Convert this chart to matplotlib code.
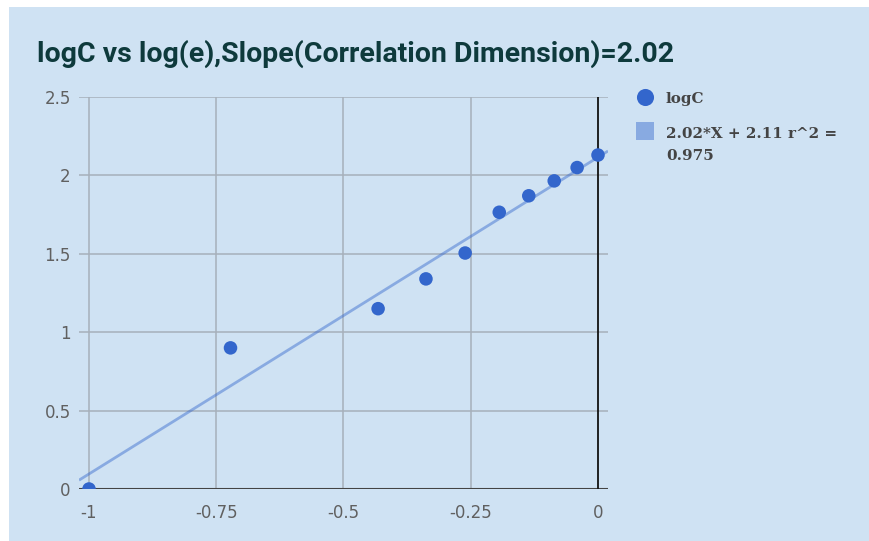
import numpy as np
import matplotlib
matplotlib.use("Agg")
import matplotlib.pyplot as plt
from matplotlib.lines import Line2D

# data
log_e = [-1.0, -0.722, -0.432, -0.338, -0.261, -0.194, -0.136, -0.086, -0.041, 0.0]
log_c = [0.0, 0.90, 1.15, 1.34, 1.505, 1.765, 1.87, 1.965, 2.05, 2.13]
x_ticks = [-1, -0.75, -0.5, -0.25, 0]
x_tick_labels = ["-1", "-0.75", "-0.5", "-0.25", "0"]
y_ticks = [0, 0.5, 1, 1.5, 2, 2.5]
y_tick_labels = ["0", "0.5", "1", "1.5", "2", "2.5"]
title = "logC vs log(e),Slope(Correlation Dimension)=2.02"
series_label = "logC"
trend_label_lines = ["2.02*X + 2.11 r^2 =", "0.975"]

W, H = 870, 541
BG = "#cfe2f3"
BLUE = "#3366cc"
fig = plt.figure(figsize=(W / 100, H / 100), dpi=100)
fig.patch.set_facecolor("white")
# blue panel (white strip on left and top)
fig.patches.append(plt.Rectangle((9 / W, 0), 1, 1 - 7 / H, transform=fig.transFigure,
                                 facecolor=BG, edgecolor="none", zorder=-10))

L, R, B, T = 79, 608, 489, 97
ax = fig.add_axes([L / W, 1 - B / H, (R - L) / W, (B - T) / H])
ax.patch.set_alpha(0)
xpad = 10 / 509
ax.set_xlim(-1 - xpad, 0 + xpad)
ax.set_ylim(0, 2.5)

for s in ax.spines.values():
    s.set_visible(False)

grid_c = "#a6b0ba"
for yt in y_ticks:
    if yt != 0:
        ax.axhline(yt, color=grid_c, lw=1.1, zorder=1)
for xt in x_ticks:
    if xt != 0:
        ax.axvline(xt, color=grid_c, lw=1.1, zorder=1)
ax.axhline(0, color="#444444", lw=1.5, zorder=2)
ax.axvline(0, color="#111111", lw=1.3, zorder=2)

ax.set_xticks(x_ticks)
ax.set_xticklabels(x_tick_labels)
ax.set_yticks(y_ticks)
ax.set_yticklabels(y_tick_labels)
ax.tick_params(length=0, labelsize=12, labelcolor="#606060")
ax.tick_params(axis="x", pad=11)
ax.tick_params(axis="y", pad=6)

# trendline
slope, intercept = np.polyfit(log_e, log_c, 1)
xl = np.array(ax.get_xlim())
ax.plot(xl, slope * xl + intercept, color=BLUE, alpha=0.45, lw=2.0, zorder=3,
        solid_capstyle="butt")
ax.scatter(log_e, log_c, s=95, color=BLUE, zorder=4, edgecolors="none")

fig.text(37 / W, 1 - 62 / H, title, fontsize=20.5, fontweight="bold", family="Roboto",
         color="#0e3a3c", va="baseline", ha="left")

# legend
def fx(px):
    return px / W

def fy(py):
    return 1 - py / H

fig.add_artist(Line2D([fx(645.5)], [fy(97)], marker="o", color=BLUE, ls="none",
                      markersize=12.3, markeredgewidth=0, transform=fig.transFigure))
fig.add_artist(Line2D([fx(645.5)], [fy(131)], marker="s", color=BLUE, alpha=0.45,
                      ls="none", markersize=12.3, markeredgewidth=0,
                      transform=fig.transFigure))
legfont = dict(family="DejaVu Serif", fontweight="bold", fontsize=10.9, color="#444444",
               ha="left", va="baseline")
fig.text(fx(665), fy(103), series_label, **legfont)
fig.text(fx(666), fy(137.5), trend_label_lines[0], **legfont)
fig.text(fx(666), fy(160), trend_label_lines[1], **legfont)

fig.savefig("out.png", dpi=100, facecolor="white")
